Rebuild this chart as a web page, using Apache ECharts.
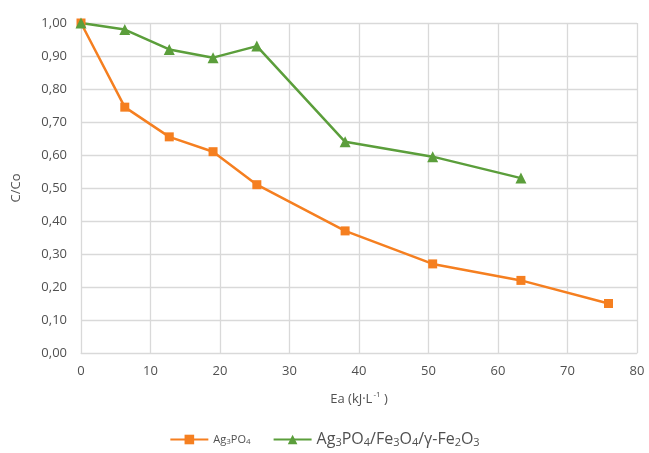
<!DOCTYPE html>
<html>
<head>
<meta charset="utf-8">
<script src="https://cdn.jsdelivr.net/npm/echarts@6/dist/echarts.min.js"></script>
<style>
html, body { margin: 0; padding: 0; background: #fff; }
#chart { width: 649px; height: 453px; }
</style>
</head>
<body>
<div id="chart"></div>
<script>
// values
var xAg3PO4 = [0, 6.3, 12.7, 19.0, 25.3, 38.0, 50.6, 63.3, 75.9];
var yAg3PO4 = [1.00, 0.745, 0.655, 0.61, 0.51, 0.37, 0.27, 0.22, 0.15];

var xComposite = [0, 6.3, 12.7, 19.0, 25.3, 38.0, 50.6, 63.3];
var yComposite = [1.00, 0.98, 0.92, 0.895, 0.93, 0.64, 0.595, 0.53];

var seriesNames = ['Ag3PO4', 'Ag3PO4/Fe3O4/γ-Fe2O3'];

var gray = '#505050';
var orange = '#f57f20';
var green = '#5b9e3b';

function pairs(xs, ys) {
	return xs.map(function (x, i) { return [x, ys[i]]; });
}

// digits in chemical formulas become subscripts
function subscripted(name, big) {
	var a = big ? 'b' : 'a';
	var s = big ? 'bs' : 'as';
	return name.split(/(\d)/).filter(function (p) { return p !== ''; }).map(function (p) {
		return /\d/.test(p) ? '{' + s + '|' + p + '}' : '{' + a + '|' + p + '}';
	}).join('');
}

var chart = echarts.init(document.getElementById('chart'));

chart.setOption({
	backgroundColor: '#fff',
	animation: false,
	textStyle: { fontFamily: 'Open Sans, Liberation Sans, sans-serif' },
	grid: {
		left: 81,
		right: 12,
		top: 23,
		bottom: 100
	},
	xAxis: {
		type: 'value',
		min: 0,
		max: 80,
		interval: 10,
		name: '{n|Ea (kJ·L}{sup|-1}{n| )}',
		nameLocation: 'middle',
		nameGap: 38,
		nameTextStyle: {
			rich: {
				n: { color: gray, fontSize: 13, fontFamily: 'Open Sans' },
				sup: { color: gray, fontSize: 8, verticalAlign: 'top', padding: [0, 0, 8, 1], fontFamily: 'Open Sans' }
			}
		},
		axisLine: { show: true, lineStyle: { color: '#d9d9d9', width: 1 } },
		axisTick: { show: false },
		axisLabel: { color: gray, fontSize: 13, margin: 12 },
		splitLine: { show: true, lineStyle: { color: '#d9d9d9', width: 1.3 } }
	},
	yAxis: {
		type: 'value',
		min: 0,
		max: 1,
		interval: 0.1,
		name: 'C/Co',
		nameLocation: 'middle',
		nameGap: 58,
		nameTextStyle: { color: gray, fontSize: 13 },
		axisLine: { show: true, lineStyle: { color: '#d9d9d9', width: 1 } },
		axisTick: { show: false },
		axisLabel: {
			color: gray,
			fontSize: 13,
			margin: 14,
			formatter: function (v) { return v.toFixed(2).replace('.', ','); }
		},
		splitLine: { show: true, lineStyle: { color: '#d9d9d9', width: 1.3 } }
	},
	legend: {
		bottom: 0,
		left: 'center',
		itemWidth: 38,
		itemHeight: 12,
		itemGap: 22,
		data: [seriesNames[0], seriesNames[1]],
		formatter: function (name) {
			return subscripted(name, name !== seriesNames[0]);
		},
		textStyle: {
			rich: {
				a: { color: gray, fontSize: 11 },
				as: { color: gray, fontSize: 8, verticalAlign: 'bottom', padding: [4, 0, 0, 0] },
				b: { color: gray, fontSize: 16 },
				bs: { color: gray, fontSize: 11, verticalAlign: 'bottom', padding: [6, 0, 0, 0] }
			}
		}
	},
	series: [{
		name: seriesNames[0],
		type: 'line',
		data: pairs(xAg3PO4, yAg3PO4),
		symbol: 'rect',
		symbolSize: 9,
		lineStyle: { color: orange, width: 2.5 },
		itemStyle: { color: orange }
	}, {
		name: seriesNames[1],
		type: 'line',
		data: pairs(xComposite, yComposite),
		symbol: 'triangle',
		symbolSize: 11,
		lineStyle: { color: green, width: 2.5 },
		itemStyle: { color: green }
	}]
});
</script>
</body>
</html>
